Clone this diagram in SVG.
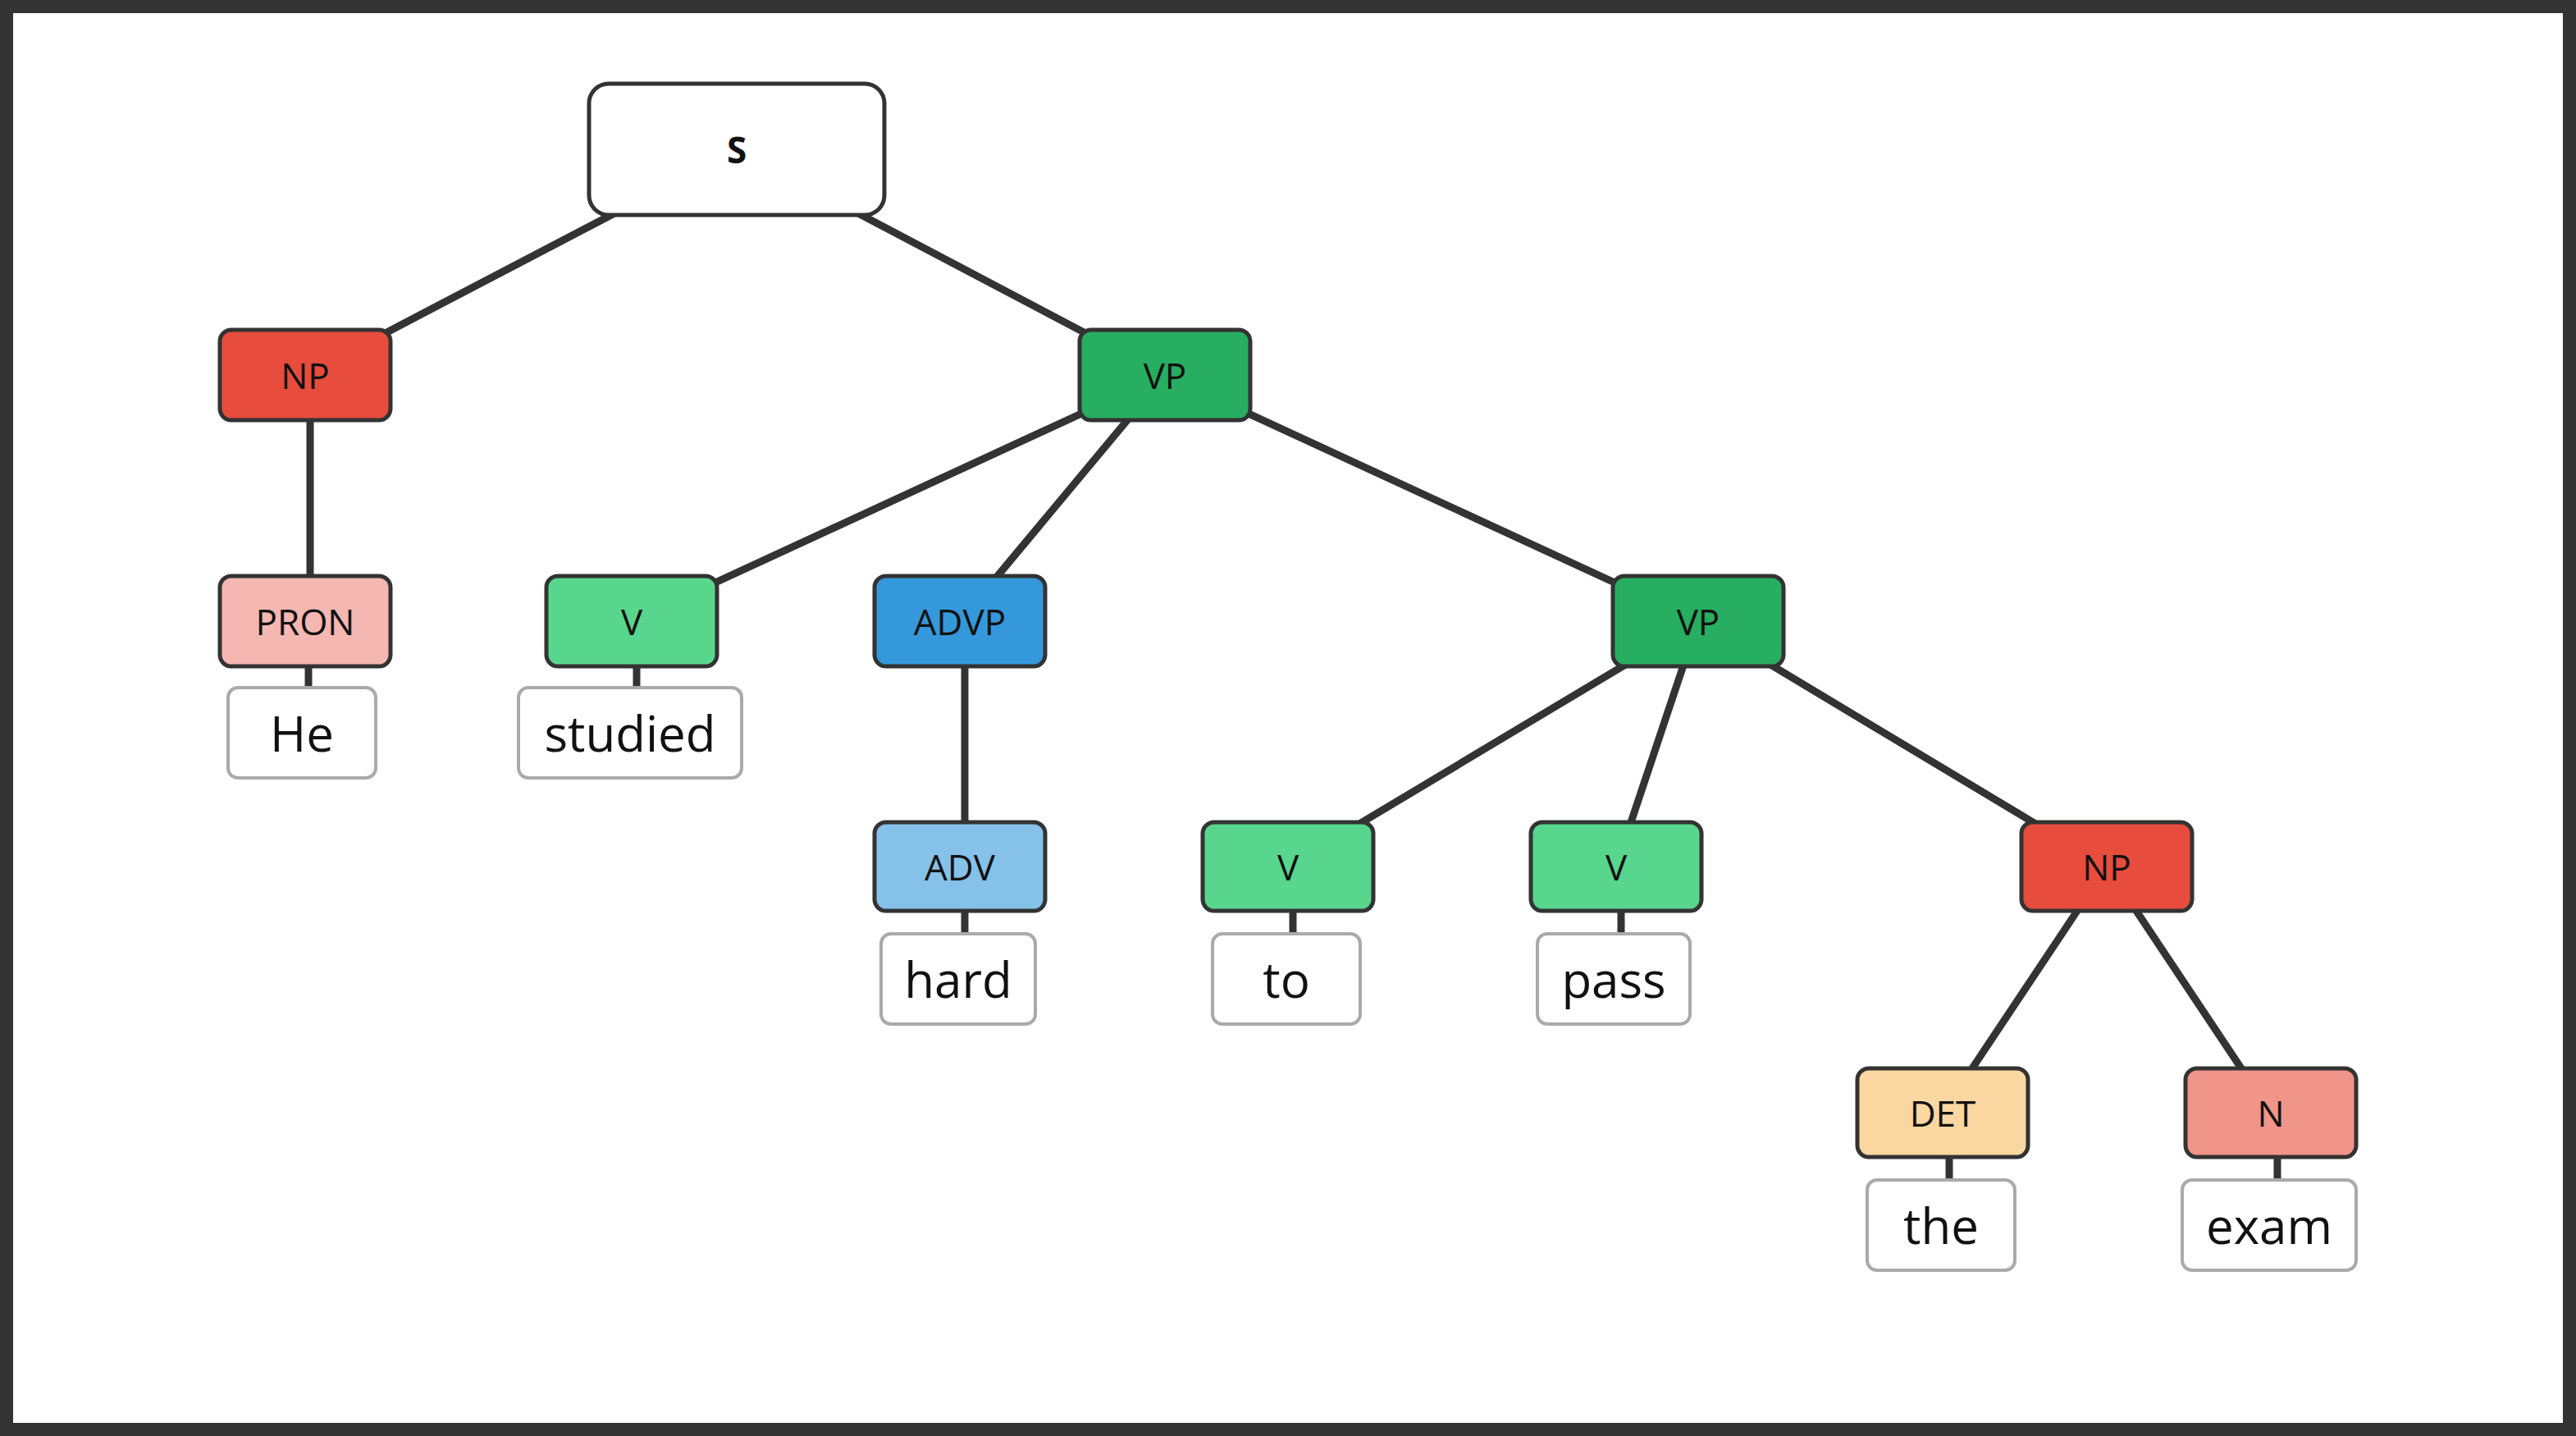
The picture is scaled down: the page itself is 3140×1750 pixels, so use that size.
<svg xmlns="http://www.w3.org/2000/svg" width="3140" height="1750" viewBox="0 0 3140 1750">
<style>
.n{stroke:#333;stroke-width:5}
.w{fill:#fff;stroke:#aaa;stroke-width:4}
.l{font-family:"Open Sans","Liberation Sans",sans-serif;font-size:44px;text-anchor:middle;dominant-baseline:central;fill:#111}
.t{font-family:"Open Sans","Liberation Sans",sans-serif;font-size:60px;text-anchor:middle;dominant-baseline:central;fill:#111}
#edges line{stroke:#333;stroke-width:9}
</style>
<rect x="0" y="0" width="3140" height="1750" fill="#fff"/>
<rect x="8" y="8" width="3124" height="1734" fill="none" stroke="#333" stroke-width="16"/>
<g id="edges">
<line x1="898" y1="182" x2="372" y2="457"/>
<line x1="898" y1="182" x2="1420" y2="457"/>
<line x1="378" y1="457" x2="378" y2="757"/>
<line x1="1420" y1="457" x2="770" y2="757"/>
<line x1="1420" y1="457" x2="1170" y2="757"/>
<line x1="1420" y1="457" x2="2070" y2="757"/>
<line x1="1176" y1="757" x2="1176" y2="1056"/>
<line x1="2070" y1="757" x2="1570" y2="1056"/>
<line x1="2070" y1="757" x2="1970" y2="1056"/>
<line x1="2070" y1="757" x2="2568" y2="1056"/>
<line x1="2568" y1="1056" x2="2368" y2="1356"/>
<line x1="2568" y1="1056" x2="2768" y2="1356"/>
<line x1="376" y1="812" x2="376" y2="840"/>
<line x1="776" y1="812" x2="776" y2="840"/>
<line x1="1176" y1="1110" x2="1176" y2="1140"/>
<line x1="1576" y1="1110" x2="1576" y2="1140"/>
<line x1="1976" y1="1110" x2="1976" y2="1140"/>
<line x1="2376" y1="1410" x2="2376" y2="1440"/>
<line x1="2776" y1="1410" x2="2776" y2="1440"/>
</g>
<g id="S"><rect class="n" x="718" y="102" width="360" height="160" rx="24" fill="#fff"/><text class="l" x="898" y="182" font-weight="bold" font-size="58">S</text></g>
<g id="NP1"><rect class="n" x="268" y="402" width="208" height="110" rx="14" fill="#e74c3c"/><text class="l" x="372" y="457">NP</text></g>
<g id="VP1"><rect class="n" x="1316" y="402" width="208" height="110" rx="14" fill="#27ae60"/><text class="l" x="1420" y="457">VP</text></g>
<g id="PRON"><rect class="n" x="268" y="702" width="208" height="110" rx="14" fill="#f5b7b1"/><text class="l" x="372" y="757">PRON</text></g>
<g id="V1"><rect class="n" x="666" y="702" width="208" height="110" rx="14" fill="#58d68d"/><text class="l" x="770" y="757">V</text></g>
<g id="ADVP"><rect class="n" x="1066" y="702" width="208" height="110" rx="14" fill="#3498db"/><text class="l" x="1170" y="757">ADVP</text></g>
<g id="VP2"><rect class="n" x="1966" y="702" width="208" height="110" rx="14" fill="#27ae60"/><text class="l" x="2070" y="757">VP</text></g>
<g id="ADV"><rect class="n" x="1066" y="1002" width="208" height="108" rx="14" fill="#85c1e9"/><text class="l" x="1170" y="1056">ADV</text></g>
<g id="V2"><rect class="n" x="1466" y="1002" width="208" height="108" rx="14" fill="#58d68d"/><text class="l" x="1570" y="1056">V</text></g>
<g id="V3"><rect class="n" x="1866" y="1002" width="208" height="108" rx="14" fill="#58d68d"/><text class="l" x="1970" y="1056">V</text></g>
<g id="NP2"><rect class="n" x="2464" y="1002" width="208" height="108" rx="14" fill="#e74c3c"/><text class="l" x="2568" y="1056">NP</text></g>
<g id="DET"><rect class="n" x="2264" y="1302" width="208" height="108" rx="14" fill="#fad7a0"/><text class="l" x="2368" y="1356">DET</text></g>
<g id="N"><rect class="n" x="2664" y="1302" width="208" height="108" rx="14" fill="#f1948a"/><text class="l" x="2768" y="1356">N</text></g>
<g id="w-He"><rect class="w" x="278" y="838" width="180" height="110" rx="12"/><text class="t" x="368" y="893">He</text></g>
<g id="w-studied"><rect class="w" x="632" y="838" width="272" height="110" rx="12"/><text class="t" x="768" y="893">studied</text></g>
<g id="w-hard"><rect class="w" x="1074" y="1138" width="188" height="110" rx="12"/><text class="t" x="1168" y="1193">hard</text></g>
<g id="w-to"><rect class="w" x="1478" y="1138" width="180" height="110" rx="12"/><text class="t" x="1568" y="1193">to</text></g>
<g id="w-pass"><rect class="w" x="1874" y="1138" width="186" height="110" rx="12"/><text class="t" x="1967" y="1193">pass</text></g>
<g id="w-the"><rect class="w" x="2276" y="1438" width="180" height="110" rx="12"/><text class="t" x="2366" y="1493">the</text></g>
<g id="w-exam"><rect class="w" x="2660" y="1438" width="212" height="110" rx="12"/><text class="t" x="2766" y="1493">exam</text></g>
</svg>
